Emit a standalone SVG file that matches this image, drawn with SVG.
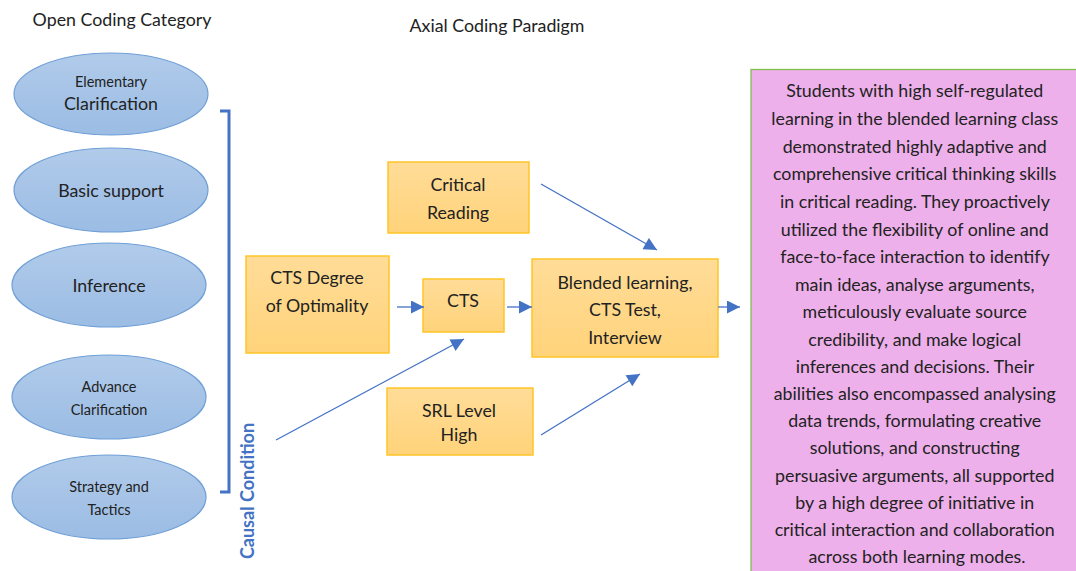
<svg xmlns="http://www.w3.org/2000/svg" width="1076" height="571" viewBox="0 0 1076 571">
<defs>
<linearGradient id="gBlue" x1="0" y1="0" x2="0" y2="1"><stop offset="0" stop-color="#b1cbea"/><stop offset="1" stop-color="#9bbce4"/></linearGradient>
<linearGradient id="gOr" x1="0" y1="0" x2="0" y2="1"><stop offset="0" stop-color="#ffdc98"/><stop offset="1" stop-color="#ffd37a"/></linearGradient>
<marker id="ah" viewBox="0 0 10 10" refX="10" refY="5" markerWidth="15" markerHeight="13" markerUnits="userSpaceOnUse" orient="auto"><path d="M0,0 L10,5 L0,10 z" fill="#4472c4"/></marker>
<style>
.t{font-family:Lato,"Liberation Sans",sans-serif;fill:#222;text-anchor:middle}
.ell{fill:url(#gBlue);stroke:#6f9fd6;stroke-width:1.2}
.box{fill:url(#gOr);stroke:#ffc527;stroke-width:1.5}
.con{stroke:#4472c4;stroke-width:1.3;fill:none;marker-end:url(#ah)}
.s16{font-size:17.8px}
.s13{font-size:14.5px}
</style>
</defs>
<rect width="1076" height="571" fill="#fff"/>
<text class="t s16" x="122" y="26">Open Coding Category</text>
<text class="t s16" x="497" y="32">Axial Coding Paradigm</text>

<g id="n-elementary"><ellipse class="ell" cx="111" cy="94" rx="97" ry="41"/><text class="t s13" x="111" y="87">Elementary</text><text class="t s16" x="111" y="110">Clarification</text></g>
<g id="n-basic"><ellipse class="ell" cx="111" cy="190" rx="97" ry="42"/><text class="t s16" x="111" y="197">Basic support</text></g>
<g id="n-inference"><ellipse class="ell" cx="109" cy="285" rx="97" ry="42"/><text class="t s16" x="109" y="292">Inference</text></g>
<g id="n-advance"><ellipse class="ell" cx="109" cy="397" rx="97" ry="42"/><text class="t s13" x="109" y="392">Advance</text><text class="t s13" x="109" y="415">Clarification</text></g>
<g id="n-strategy"><ellipse class="ell" cx="109" cy="497" rx="97" ry="42"/><text class="t s13" x="109" y="492">Strategy and</text><text class="t s13" x="109" y="515">Tactics</text></g>

<g id="bracket"><path d="M220,111 H229 V492 H220" fill="none" stroke="#4472c4" stroke-width="3"/></g>
<g id="causal"><text class="t" transform="translate(254,491) rotate(-90)" style="font-size:18px;font-weight:bold;fill:#4472c4">Causal Condition</text></g>

<g id="n-critical"><rect class="box" x="388" y="162" width="141" height="71"/><text class="t s16" x="458" y="191">Critical</text><text class="t s16" x="458" y="219">Reading</text></g>
<g id="n-ctsdeg"><rect class="box" x="246" y="256" width="143" height="97"/><text class="t s16" x="317" y="284">CTS Degree</text><text class="t s16" x="317" y="312">of Optimality</text></g>
<g id="n-cts"><rect class="box" x="423" y="279" width="81" height="53"/><text class="t s16" x="463" y="307">CTS</text></g>
<g id="n-blended"><rect class="box" x="532" y="259" width="186" height="98"/><text class="t s16" x="625" y="289">Blended learning,</text><text class="t s16" x="625" y="316">CTS Test,</text><text class="t s16" x="625" y="344">Interview</text></g>
<g id="n-srl"><rect class="box" x="387" y="388" width="146" height="67"/><text class="t s16" x="459" y="417">SRL Level</text><text class="t s16" x="459" y="441">High</text></g>

<g id="n-result"><rect x="751" y="69.5" width="340" height="520" fill="#eeb0ea" stroke="#7fbf4f" stroke-width="1.3"/>
<text class="t s16">
<tspan x="917" y="97">Students with high self-regulated</tspan>
<tspan x="917" y="125">learning in the blended learning class</tspan>
<tspan x="917" y="153">demonstrated highly adaptive and</tspan>
<tspan x="917" y="180">comprehensive critical thinking skills</tspan>
<tspan x="917" y="208">in critical reading. They proactively</tspan>
<tspan x="917" y="236">utilized the flexibility of online and</tspan>
<tspan x="917" y="263">face-to-face interaction to identify</tspan>
<tspan x="917" y="291">main ideas, analyse arguments,</tspan>
<tspan x="917" y="318">meticulously evaluate source</tspan>
<tspan x="917" y="346">credibility, and make logical</tspan>
<tspan x="917" y="373">inferences and decisions. Their</tspan>
<tspan x="917" y="400">abilities also encompassed analysing</tspan>
<tspan x="917" y="427">data trends, formulating creative</tspan>
<tspan x="917" y="454">solutions, and constructing</tspan>
<tspan x="917" y="482">persuasive arguments, all supported</tspan>
<tspan x="917" y="509">by a high degree of initiative in</tspan>
<tspan x="917" y="536">critical interaction and collaboration</tspan>
<tspan x="917" y="563">across both learning modes.</tspan>
</text></g>

<g id="connectors">
<line class="con" x1="397" y1="307" x2="424" y2="307"/>
<line class="con" x1="507" y1="307" x2="532" y2="307"/>
<line class="con" x1="276" y1="440" x2="464" y2="339"/>
<line class="con" x1="541" y1="184" x2="657" y2="250"/>
<line class="con" x1="541" y1="435" x2="640" y2="374"/>
<line class="con" x1="718" y1="307" x2="740" y2="307"/>
</g>
</svg>
